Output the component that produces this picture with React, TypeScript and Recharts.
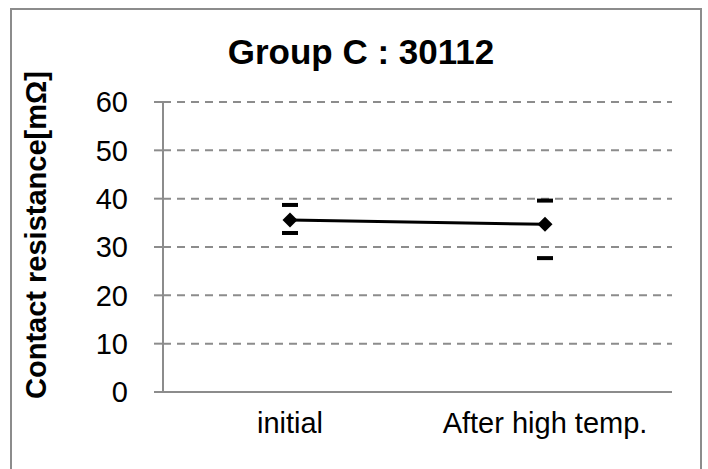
import React from 'react';
import { LineChart, Line, XAxis, YAxis, CartesianGrid } from 'recharts';

const categories = ['initial', 'After high temp.'];
const avgValues = [35.6, 34.7];
const maxValues = [38.7, 39.6];
const minValues = [32.9, 27.7];
const yTicks = [0, 10, 20, 30, 40, 50, 60];

const data = categories.map((name, i) => ({
  name,
  avg: avgValues[i],
  max: maxValues[i],
  min: minValues[i],
}));

const FONT = '"Liberation Sans", Arial, sans-serif';
const GRAY = '#8c8c8c';

const Diamond = (props: any) => {
  const { cx, cy } = props;
  if (cx == null || cy == null) return null;
  const r = 7.5;
  return (
    <polygon
      points={`${cx},${cy - r} ${cx + r},${cy} ${cx},${cy + r} ${cx - r},${cy}`}
      fill="#000"
    />
  );
};

const Dash = (props: any) => {
  const { cx, cy } = props;
  if (cx == null || cy == null) return null;
  return <rect x={cx - 8} y={cy - 2} width={16} height={4} fill="#000" />;
};

export default function App() {
  return (
    <div>
      <style>{`body{margin:0;overflow:hidden;background:#fff}`}</style>
      <div
        style={{
          position: 'absolute',
          left: 10,
          top: 8,
          width: 688,
          height: 470,
          border: `2px solid ${GRAY}`,
          borderBottom: 'none',
          fontFamily: FONT,
        }}
      >
        <LineChart
          width={688}
          height={461}
          data={data}
          margin={{ top: 92, right: 28, bottom: 19, left: 0 }}
        >
          <CartesianGrid
            vertical={false}
            stroke={GRAY}
            strokeWidth={2}
            strokeDasharray="8 6"
          />
          <XAxis
            dataKey="name"
            height={60}
            padding={{ left: 127, right: 127 }}
            tickLine={false}
            tickSize={0}
            tickMargin={20}
            axisLine={{ stroke: GRAY, strokeWidth: 2 }}
            tick={{ fill: '#000', fontSize: 29, fontFamily: FONT }}
          />
          <YAxis
            width={151}
            domain={[0, 60]}
            ticks={yTicks}
            interval={0}
            tickSize={9}
            tickMargin={26}
            axisLine={{ stroke: GRAY, strokeWidth: 2 }}
            tickLine={{ stroke: GRAY, strokeWidth: 2 }}
            tick={{ fill: '#000', fontSize: 29, fontFamily: FONT }}
          />
          <Line
            dataKey="max"
            stroke="none"
            dot={<Dash />}
            activeDot={false}
            isAnimationActive={false}
          />
          <Line
            dataKey="min"
            stroke="none"
            dot={<Dash />}
            activeDot={false}
            isAnimationActive={false}
          />
          <Line
            dataKey="avg"
            stroke="#000"
            strokeWidth={3}
            dot={<Diamond />}
            activeDot={false}
            isAnimationActive={false}
          />
        </LineChart>
        <div
          style={{
            position: 'absolute',
            left: 3,
            top: 24,
            width: 692,
            textAlign: 'center',
            fontSize: 35,
            fontWeight: 'bold',
            lineHeight: '35px',
            color: '#000',
          }}
        >
          Group C : 30112
        </div>
        <div
          style={{
            position: 'absolute',
            left: 24,
            top: 225,
            width: 0,
            height: 0,
          }}
        >
          <div
            style={{
              position: 'absolute',
              left: 0,
              top: 0,
              transform: 'translate(-50%, -50%) rotate(-90deg)',
              whiteSpace: 'nowrap',
              fontSize: 29,
              fontWeight: 'bold',
              lineHeight: '29px',
              color: '#000',
            }}
          >
            Contact resistance[mΩ]
          </div>
        </div>
      </div>
    </div>
  );
}
